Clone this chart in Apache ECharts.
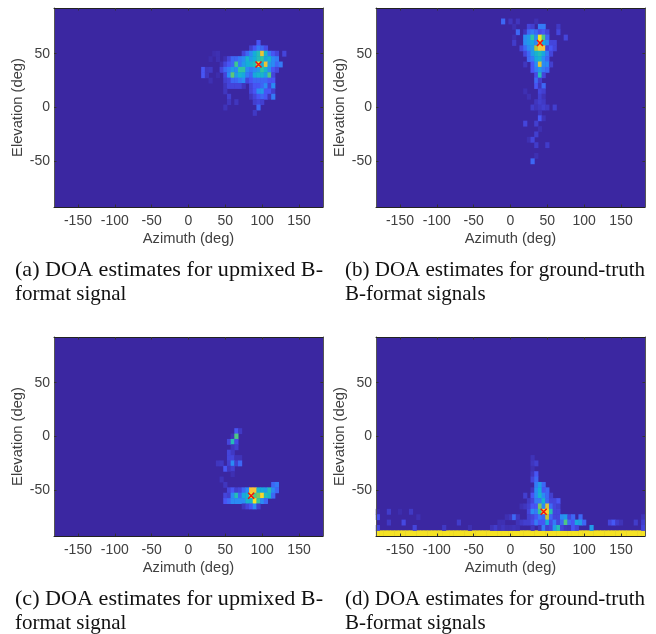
<!DOCTYPE html>
<html>
<head>
<meta charset="utf-8">
<style>html,body{margin:0;padding:0;background:#fff}#c{width:656px;height:634px}</style>
<script src="https://cdn.jsdelivr.net/npm/echarts@6/dist/echarts.min.js"></script>
</head>
<body>
<div id="c"></div>
<script>
const azimuths = [];
for (let a = -180; a <= 180; a += 5) azimuths.push(String(a));
const elevations = [];
for (let e = -90; e <= 90; e += 5) elevations.push(String(e));
const parula = ['#3B27A1', '#4852F4', '#2D87F7', '#12B1D6', '#37C897', '#ABC739', '#FEC338', '#F5E324'];

// [elevation, {azimuth: normalised count}]
const panelA = [
  [60, {95:.15}],
  [55, {85:.08,90:.15,95:.25,100:.2,105:.12}],
  [50, {35:.02,40:.03,75:.1,80:.2,85:.3,90:.42,95:.5,100:.82,105:.45,110:.25,115:.15,120:.1,130:.1}],
  [45, {30:.02,40:.03,50:.03,55:.1,60:.2,65:.2,70:.25,75:.3,80:.45,85:.35,90:.42,95:.5,100:.55,105:.38,110:.45,115:.3,120:.25}],
  [40, {45:.03,50:.1,55:.15,60:.2,65:.58,70:.25,75:.35,80:.42,85:.45,90:.5,95:1,100:.4,105:.82,110:.35,115:.3,120:.2,125:.25}],
  [35, {20:.15,25:.05,30:.06,45:.1,50:.2,55:.25,60:.35,65:.3,70:.55,75:.55,80:.3,85:.25,90:.3,95:.35,100:.55,105:.45,110:.3,115:.15,120:.1}],
  [30, {20:.15,25:.05,40:.02,50:.1,55:.3,60:.62,65:.35,70:.45,75:.4,80:.25,85:.2,90:.4,95:.45,100:.45,105:.35,110:.6,115:.1}],
  [25, {30:.03,50:.08,55:.1,60:.2,65:.2,70:.25,75:.3,80:.1,85:.15,90:.2,95:.2,100:.2,105:.2,110:.15,115:.15}],
  [20, {50:.05,55:.1,60:.1,65:.1,70:.1,75:.05,85:.1,90:.15,95:.15,100:.2,105:.3,110:.1,115:.3}],
  [15, {50:.05,85:.1,90:.15,95:.3,100:.35,105:.15,110:.15,115:.08}],
  [10, {55:.08,85:.05,90:.1,95:.15,100:.2,105:.15,110:.05,115:.25}],
  [5, {55:.05,65:.05,90:.08,95:.1,100:.08}],
  [0, {50:.04,95:.2}],
  [-5, {90:.06}]
];
const panelB = [
  [80, {'-10':.2,0:.05,10:.05,35:.03}],
  [75, {5:.03,25:.1,30:.08,40:.25,45:.25,65:.06}],
  [70, {10:.2,20:.05,25:.2,30:.25,35:.2,40:.12,45:.15,50:.1,65:.1}],
  [65, {5:.03,20:.3,25:.35,30:.55,35:.3,40:1,45:.6,50:.2,75:.1}],
  [60, {5:.07,20:.3,25:.35,30:.4,35:.3,40:1,45:.4,50:.3,55:.1,60:.1}],
  [55, {15:.1,20:.2,25:.3,30:.35,35:.72,40:.85,45:.85,50:.1,55:.15,60:.1}],
  [50, {20:.1,25:.2,30:.35,35:.45,40:.5,45:.4,50:.25,55:.1}],
  [45, {25:.2,30:.25,35:.4,40:.45,45:.3,50:.2}],
  [40, {20:.05,30:.15,35:.3,40:.8,45:.3,50:.3,55:.08}],
  [35, {30:.15,35:.25,40:.35,45:.25,50:.2}],
  [30, {35:.12,40:.5,45:.1}],
  [25, {35:.2,40:.08}],
  [20, {35:.15,40:.05,45:.2}],
  [15, {20:.03,40:.1,45:.08}],
  [10, {25:.03,40:.08,45:.04}],
  [5, {35:.05,40:.08,45:.06}],
  [0, {30:.07,35:.04,40:.06,45:.08,50:.06,60:.08}],
  [-5, {40:.04}],
  [-10, {40:.15,45:.04}],
  [-15, {20:.1,35:.08}],
  [-20, {40:.03}],
  [-25, {35:.08}],
  [-30, {25:.03,30:.1}],
  [-35, {35:.07,50:.07}],
  [-45, {35:.03}],
  [-50, {30:.2}]
];
const panelC = [
  [5, {65:.15,70:.06}],
  [0, {60:.04,65:.6}],
  [-5, {55:.1,60:.5,65:.12}],
  [-10, {60:.05,65:.08}],
  [-15, {55:.1,60:.06}],
  [-20, {55:.1,60:.1,65:.04,70:.04}],
  [-25, {40:.05,45:.06,55:.08,60:.3,65:.08,70:.2}],
  [-30, {50:.15,55:.05,60:.08}],
  [-35, {60:.03}],
  [-40, {45:.04}],
  [-45, {50:.05,115:.2,120:.25}],
  [-50, {55:.1,60:.15,65:.08,70:.1,75:.2,80:.3,85:.85,90:.85,95:.45,100:.4,105:.35,110:.5,115:.3,120:.2}],
  [-55, {50:.1,55:.08,60:.3,65:.5,70:.2,75:.4,80:.45,85:1,90:.6,95:.65,100:.95,105:.5,110:.45,115:.2}],
  [-60, {50:.15,55:.2,60:.3,65:.3,70:.3,75:.3,80:.45,85:.45,90:1,95:.55,100:.3,105:.2}],
  [-65, {75:.05,80:.1,85:.15,90:.3,95:.08}]
];
const panelD = [
  [-20, {30:.04}],
  [-25, {30:.05,35:.08}],
  [-30, {30:.03}],
  [-35, {30:.05,35:.15}],
  [-40, {30:.1,35:.2}],
  [-45, {35:.25,40:.35,45:.2}],
  [-50, {30:.05,35:.3,40:.42,45:.15,50:.2}],
  [-55, {20:.08,30:.15,35:.3,40:.45,45:.3,50:.2,55:.08}],
  [-60, {25:.06,30:.1,35:.25,40:.25,45:.45,50:.2,55:.1,60:.1,65:.15}],
  [-65, {15:.03,20:.05,25:.08,30:.15,35:.15,40:.65,45:.3,50:.8,55:.2,60:.1,65:.08}],
  [-70, {'-180':.02,'-165':.07,'-150':.02,'-135':.06,25:.1,30:.3,35:.25,40:.55,45:1,50:.92,55:.5,60:.1,65:.1}],
  [-75, {'-180':.13,'-125':.03,'-5':.03,0:.05,5:.2,10:.05,25:.08,30:.1,35:.15,40:.25,45:.2,50:.75,55:.2,60:.1,65:.1,70:.3,75:.35,80:.1,85:.2,95:.2,180:.04}],
  [-80, {'-165':.06,'-145':.11,'-70':.07,'-15':.03,'-10':.03,10:.04,15:.06,20:.08,25:.08,30:.12,35:.25,40:.15,45:.15,50:.4,55:.12,60:.25,65:.1,70:.2,75:.6,80:.2,85:.15,90:.4,95:.35,100:.2,135:.1,140:.16,145:.07,150:.04,170:.07,180:.08}],
  [-85, {'-180':.1,'-130':.1,'-90':.06,'-55':.03,'-25':.04,'-20':.07,'-15':.03,'-10':.05,'-5':.03,0:.03,5:.04,10:.03,30:.05,40:.05,45:.25,50:.08,55:.1,60:.35,65:.5,70:.1,75:.06,80:.05,85:.15,90:.1,110:.35,180:.1}]
];
const bottomRowD = [[-90, Object.fromEntries(azimuths.map(a => [a, 1]))]];
const peaks = [['95', '40'], ['40', '60'], ['85', '-55'], ['45', '-70']];
const panels = [panelA, panelB, panelC, bottomRowD.concat(panelD)];
const captionsA = ['(a) DOA estimates for upmixed B-', 'format signal'];
const captionsB = ['(b) DOA estimates for ground-truth', 'B-format signals'];
const captionsC = ['(c) DOA estimates for upmixed B-', 'format signal'];
const captionsD = ['(d) DOA estimates for ground-truth', 'B-format signals'];
const xName = 'Azimuth (deg)';
const yName = 'Elevation (deg)';

const lefts = [54, 376, 54, 376], tops = [8, 8, 337, 337];
const W = 269, H = 199;
const textColor = '#404040', sans = '"Liberation Sans", Arial, sans-serif';

// Non-empty cells only; the grid background gives the zero level.
function cellsOf(rows) {
  const out = [];
  rows.forEach(([e, cells]) => Object.keys(cells).forEach(a => out.push([a, String(e), cells[a]])));
  return out;
}
const isTick = (i, v) => Number(v) % 50 === 0;

const grid = [], xAxis = [], yAxis = [], series = [], heatIdx = [];
panels.forEach((rows, i) => {
  grid.push({left: lefts[i], top: tops[i], width: W, height: H, show: true, backgroundColor: parula[0], borderWidth: 0, containLabel: false});
  const axisTick = {show: true, inside: true, length: 2.5, alignWithLabel: true, interval: isTick, lineStyle: {color: '#333', width: 1}};
  const mkLine = c => ({show: true, onZero: false, lineStyle: {color: c, width: 1}});
  xAxis.push({gridIndex: i, type: 'category', data: azimuths, position: 'bottom', z: 10,
    name: xName, nameLocation: 'middle', nameGap: 24, nameTextStyle: {fontFamily: sans, fontSize: 14.7, color: textColor},
    axisLine: mkLine('#222'), axisTick,
    axisLabel: {interval: isTick, margin: 7.5, fontFamily: sans, fontSize: 14, color: textColor, hideOverlap: false},
    splitLine: {show: false}});
  xAxis.push({gridIndex: i, type: 'category', data: azimuths, position: 'top', z: 10,
    axisLine: mkLine('#222'), axisTick, axisLabel: {show: false}, splitLine: {show: false}});
  yAxis.push({gridIndex: i, type: 'category', data: elevations, position: 'left', z: 10,
    name: yName, nameLocation: 'middle', nameGap: 23, nameRotate: 90, nameTextStyle: {fontFamily: sans, fontSize: 14.7, color: textColor},
    axisLine: mkLine('#555'), axisTick,
    axisLabel: {interval: isTick, margin: 4, fontFamily: sans, fontSize: 14, color: textColor, hideOverlap: false},
    splitLine: {show: false}});
  yAxis.push({gridIndex: i, type: 'category', data: elevations, position: 'right', z: 10,
    axisLine: mkLine('#555'), axisTick, axisLabel: {show: false}, splitLine: {show: false}});
  heatIdx.push(series.length);
  series.push({type: 'heatmap', xAxisIndex: 2 * i, yAxisIndex: 2 * i, data: cellsOf(rows), silent: true, progressive: 0, animation: false, itemStyle: {borderWidth: 0}});
  series.push({type: 'scatter', xAxisIndex: 2 * i, yAxisIndex: 2 * i, data: [peaks[i]], symbol: 'path://M0 0L10 10M10 0L0 10', symbolSize: 6, silent: true, animation: false,
    itemStyle: {color: 'none', borderColor: '#F01010', borderWidth: 1.5, opacity: 1}, z: 5});
});

const serif = '"Liberation Serif", "Times New Roman", serif';
const capFont = '21px ' + serif;
const ctx = document.createElement('canvas').getContext('2d');
ctx.font = capFont;
function captionLine(text, x, y, width) {
  const scaleX = width ? width / ctx.measureText(text).width : 1;
  return {type: 'text', x, y, scaleX, silent: true, style: {text, fill: '#111', font: capFont}};
}
const capX = [15, 345, 15, 345], capW = [308, 300, 308, 300], capY = [260, 260, 589, 589];
const graphic = [captionsA, captionsB, captionsC, captionsD].flatMap((c, i) => [
  captionLine(c[0], capX[i], capY[i], capW[i]),
  captionLine(c[1], capX[i], capY[i] + 24)
]);

const chart = echarts.init(document.getElementById('c'), null, {renderer: 'canvas', width: 656, height: 634});
chart.setOption({
  animation: false, backgroundColor: '#fff', tooltip: {show: false},
  grid, xAxis, yAxis, series, graphic,
  visualMap: {show: false, type: 'continuous', min: 0, max: 1, seriesIndex: heatIdx, dimension: 2, inRange: {color: parula}}
});
</script>
</body>
</html>
